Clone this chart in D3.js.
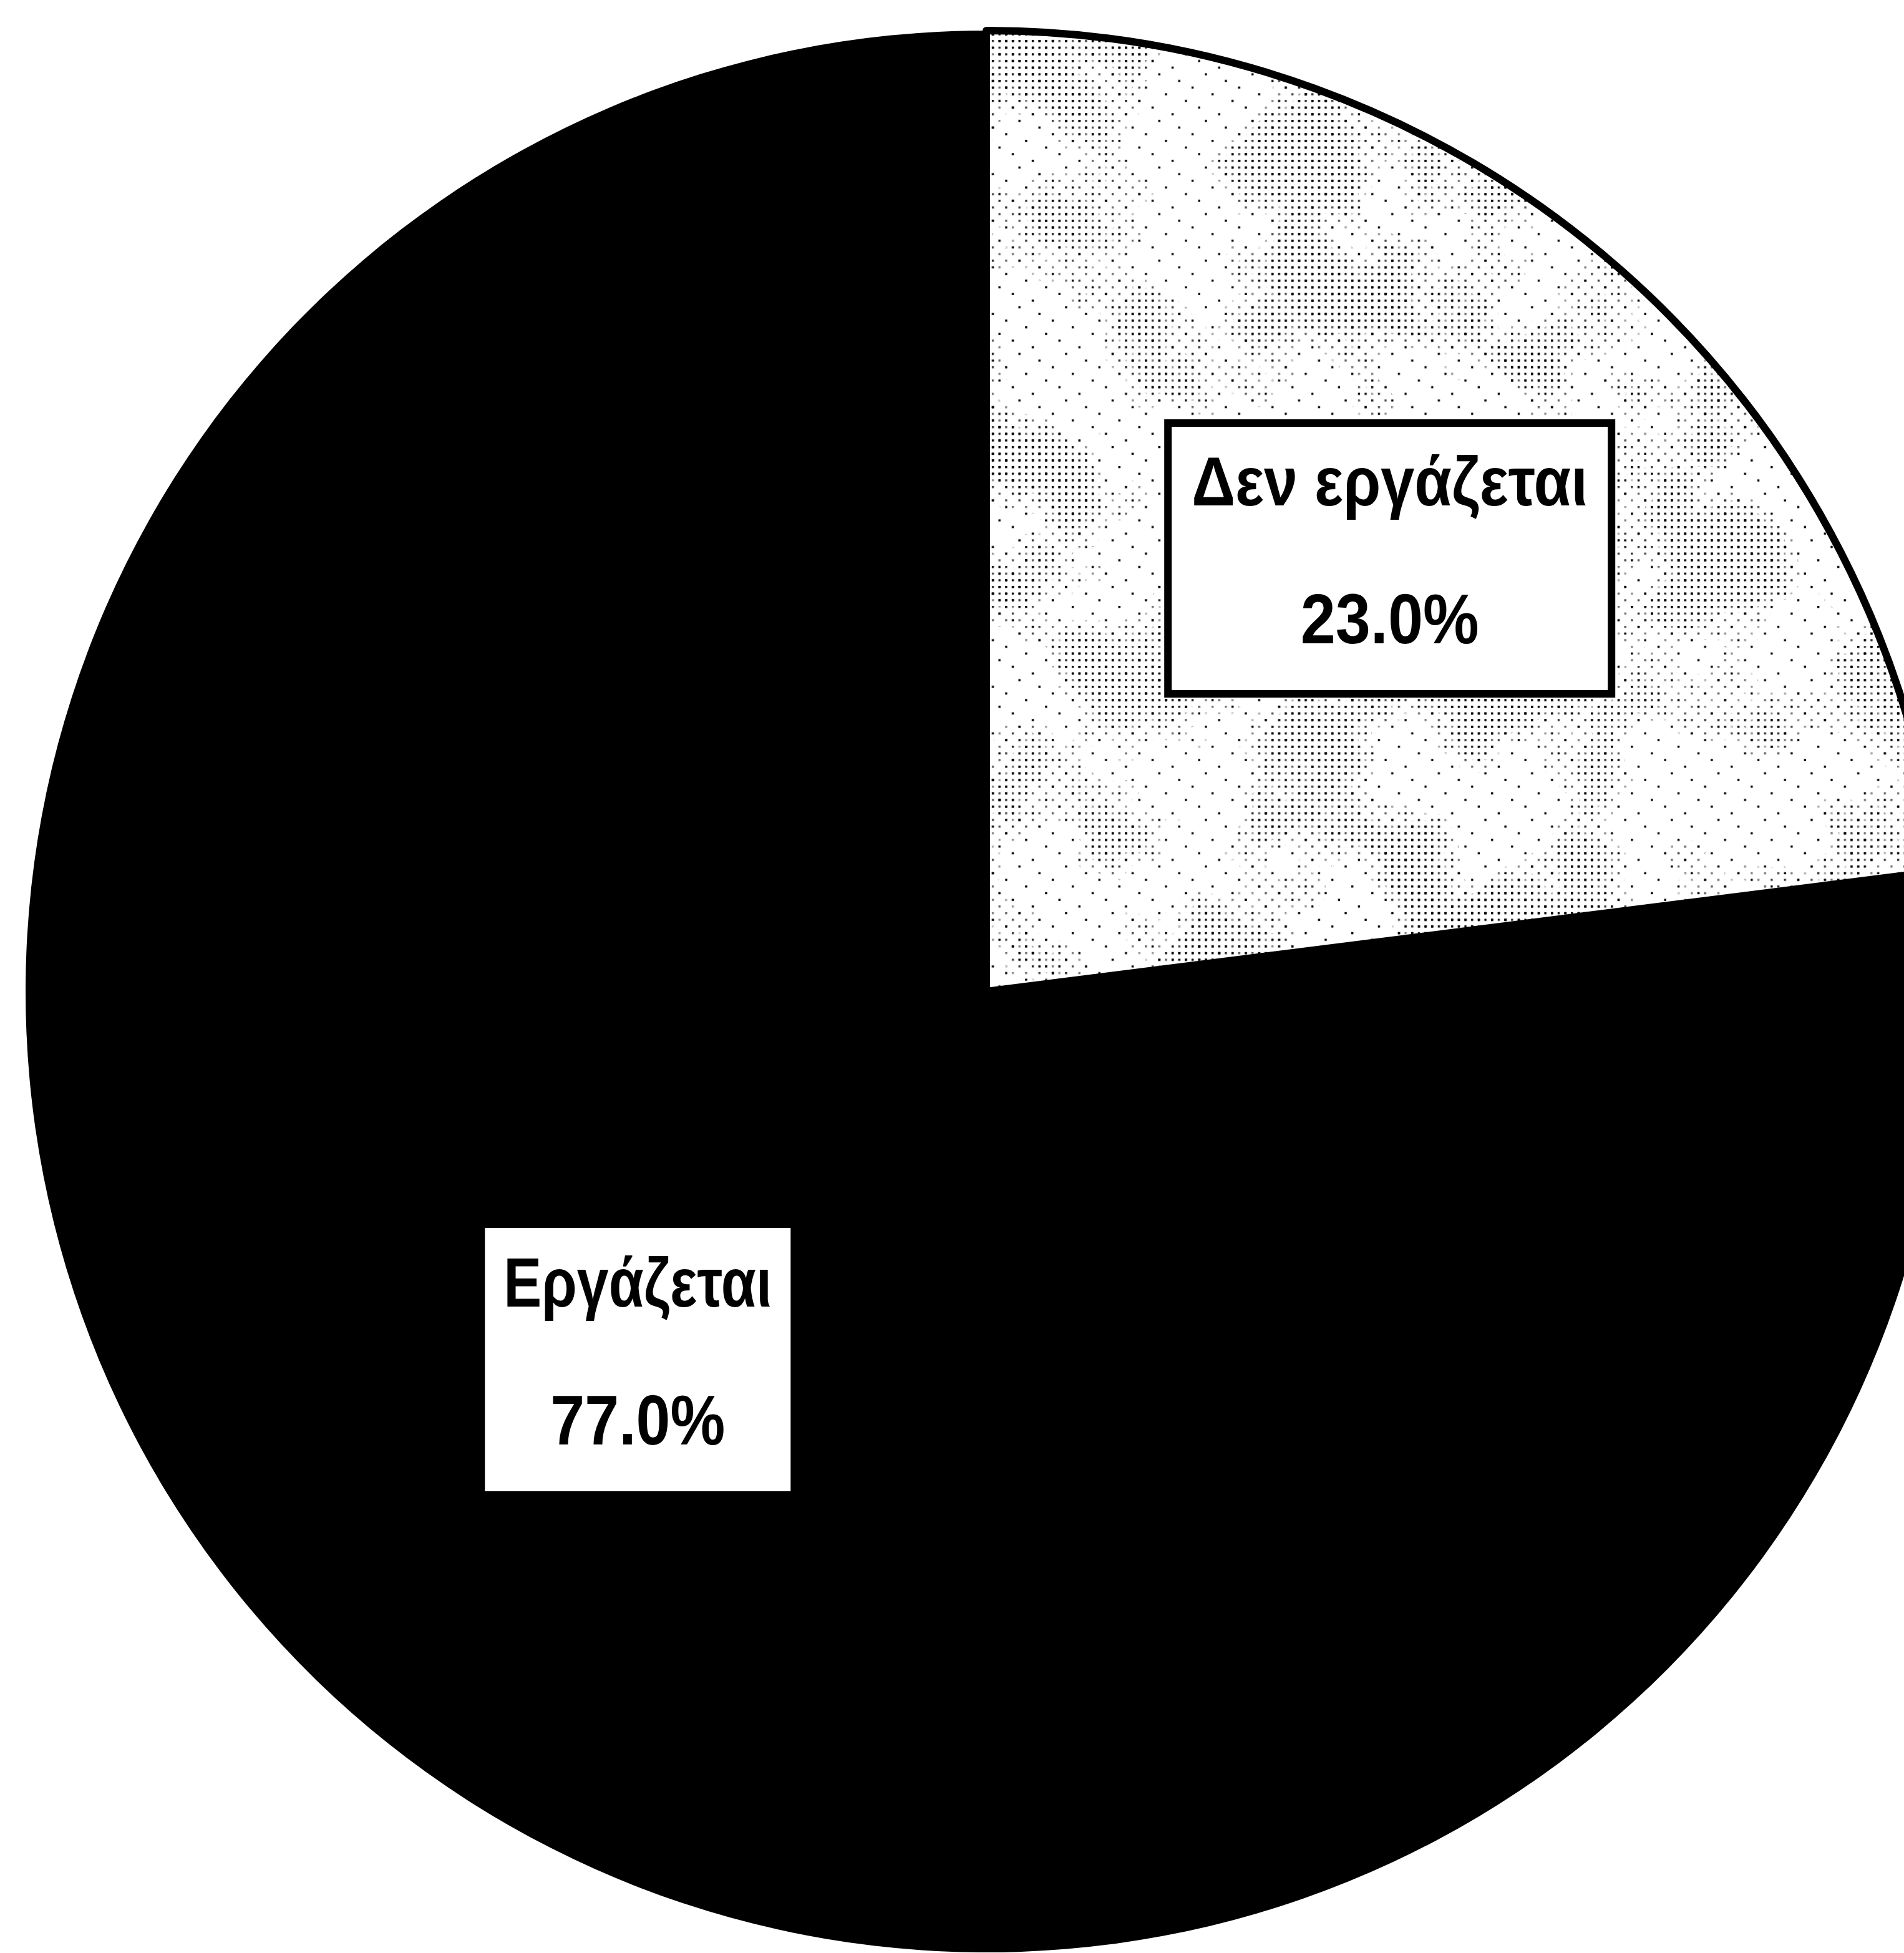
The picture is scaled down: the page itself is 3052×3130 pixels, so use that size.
<!DOCTYPE html>
<html>
<head>
<meta charset="utf-8">
<script src="https://cdn.jsdelivr.net/npm/d3@7"></script>
<style>
  html, body { margin: 0; padding: 0; background: #fff; }
  svg { display: block; }
</style>
</head>
<body>
<svg id="chart"></svg>
<script>
// Employment status shares (percent)
const categories = ["Δεν εργάζεται", "Εργάζεται"];
const values = [23.0, 77.0];
const valueLabels = ["23.0%", "77.0%"];

const W = 3052, H = 3130;
const cx = 1581, cy = 1589, R = 1540;

const svg = d3.select("#chart").attr("width", W).attr("height", H);
const defs = svg.append("defs");

// dot screens for the light slice, on a common grid
const cell = 10.67, dot = 3.4;
function screen(id, n, cells) {
  const p = defs.append("pattern").attr("id", id)
    .attr("patternUnits", "userSpaceOnUse")
    .attr("width", cell * n).attr("height", cell * n);
  cells.forEach(([i, j]) =>
    p.append("rect").attr("x", i * cell).attr("y", j * cell)
      .attr("width", dot).attr("height", dot).attr("fill", "#000"));
}
screen("sparse", 7, [[0, 0], [3, 1], [5, 2], [1, 3], [6, 4], [2, 5], [4, 6]]);
screen("medium", 2, [[0, 0], [1, 1]]);
screen("dense", 2, [[0, 0], [1, 0], [0, 1], [1, 1]]);

// blotchy masks so the heavier screens appear in patches
function blotchMask(id, seed, freq, gain, offset) {
  const f = defs.append("filter").attr("id", id + "F")
    .attr("filterUnits", "userSpaceOnUse")
    .attr("x", 0).attr("y", 0).attr("width", W).attr("height", H);
  f.append("feTurbulence").attr("type", "fractalNoise")
    .attr("baseFrequency", freq).attr("numOctaves", 3).attr("seed", seed);
  const row = `${gain} 0 0 0 ${offset}`;
  f.append("feColorMatrix").attr("type", "matrix")
    .attr("values", `${row}  ${row}  ${row}  0 0 0 0 1`);
  defs.append("mask").attr("id", id)
    .attr("maskUnits", "userSpaceOnUse")
    .attr("x", 0).attr("y", 0).attr("width", W).attr("height", H)
    .append("rect").attr("width", W).attr("height", H).attr("filter", `url(#${id}F)`);
}
blotchMask("patchMedium", 7, 0.005, 8, -3.8);
blotchMask("patchDense", 7, 0.005, 8, -4.5);

const pie = d3.pie().sort(null).value(d => d);
const arcs = pie(values);
const arc = d3.arc().innerRadius(0).outerRadius(R);

defs.append("clipPath").attr("id", "lightClip")
  .append("path").attr("transform", `translate(${cx},${cy})`).attr("d", arc(arcs[0]));

const g = svg.append("g").attr("transform", `translate(${cx},${cy})`);
const fills = ["#fff", "#000"];

g.selectAll("path.slice").data(arcs).join("path")
  .attr("class", "slice")
  .attr("d", arc)
  .attr("fill", (d, i) => fills[i]);

// texture over the light slice
const tex = svg.append("g").attr("clip-path", "url(#lightClip)");
tex.append("rect").attr("width", W).attr("height", H).attr("fill", "url(#sparse)");
tex.append("rect").attr("width", W).attr("height", H).attr("fill", "url(#medium)")
  .attr("mask", "url(#patchMedium)");
tex.append("rect").attr("width", W).attr("height", H).attr("fill", "url(#dense)")
  .attr("mask", "url(#patchDense)");

// outline of the light slice
g.append("path").attr("d", arc(arcs[0]))
  .attr("fill", "none").attr("stroke", "#000")
  .attr("stroke-width", 12).attr("stroke-linejoin", "round");

// data labels
const labelArc = d3.arc().innerRadius(R * 0.58).outerRadius(R * 0.58);
const labelNudge = [[56, -24], [32, -80]];
const nameWidth = [635, 430];
const valueWidth = [286, 280];
const boxPad = [38, 36];
const boxH = 434;

const labels = svg.append("g").selectAll("g").data(arcs).join("g")
  .attr("transform", (d, i) => {
    const [x, y] = labelArc.centroid(d);
    return `translate(${cx + x + labelNudge[i][0]},${cy + y + labelNudge[i][1]})`;
  });

labels.append("rect")
  .attr("x", (d, i) => -(nameWidth[i] / 2 + boxPad[i]))
  .attr("y", -boxH / 2)
  .attr("width", (d, i) => nameWidth[i] + 2 * boxPad[i])
  .attr("height", boxH)
  .attr("fill", "#fff").attr("stroke", "#000").attr("stroke-width", 12);

const font = "'Liberation Sans', Arial, sans-serif";
labels.append("text")
  .attr("text-anchor", "middle").attr("y", -85)
  .attr("font-family", font).attr("font-size", 112).attr("font-weight", "bold")
  .attr("textLength", (d, i) => nameWidth[i]).attr("lengthAdjust", "spacingAndGlyphs")
  .text((d, i) => categories[i]);

labels.append("text")
  .attr("text-anchor", "middle").attr("y", 136)
  .attr("font-family", font).attr("font-size", 114).attr("font-weight", "bold")
  .attr("textLength", (d, i) => valueWidth[i]).attr("lengthAdjust", "spacingAndGlyphs")
  .text((d, i) => valueLabels[i]);
</script>
</body>
</html>
